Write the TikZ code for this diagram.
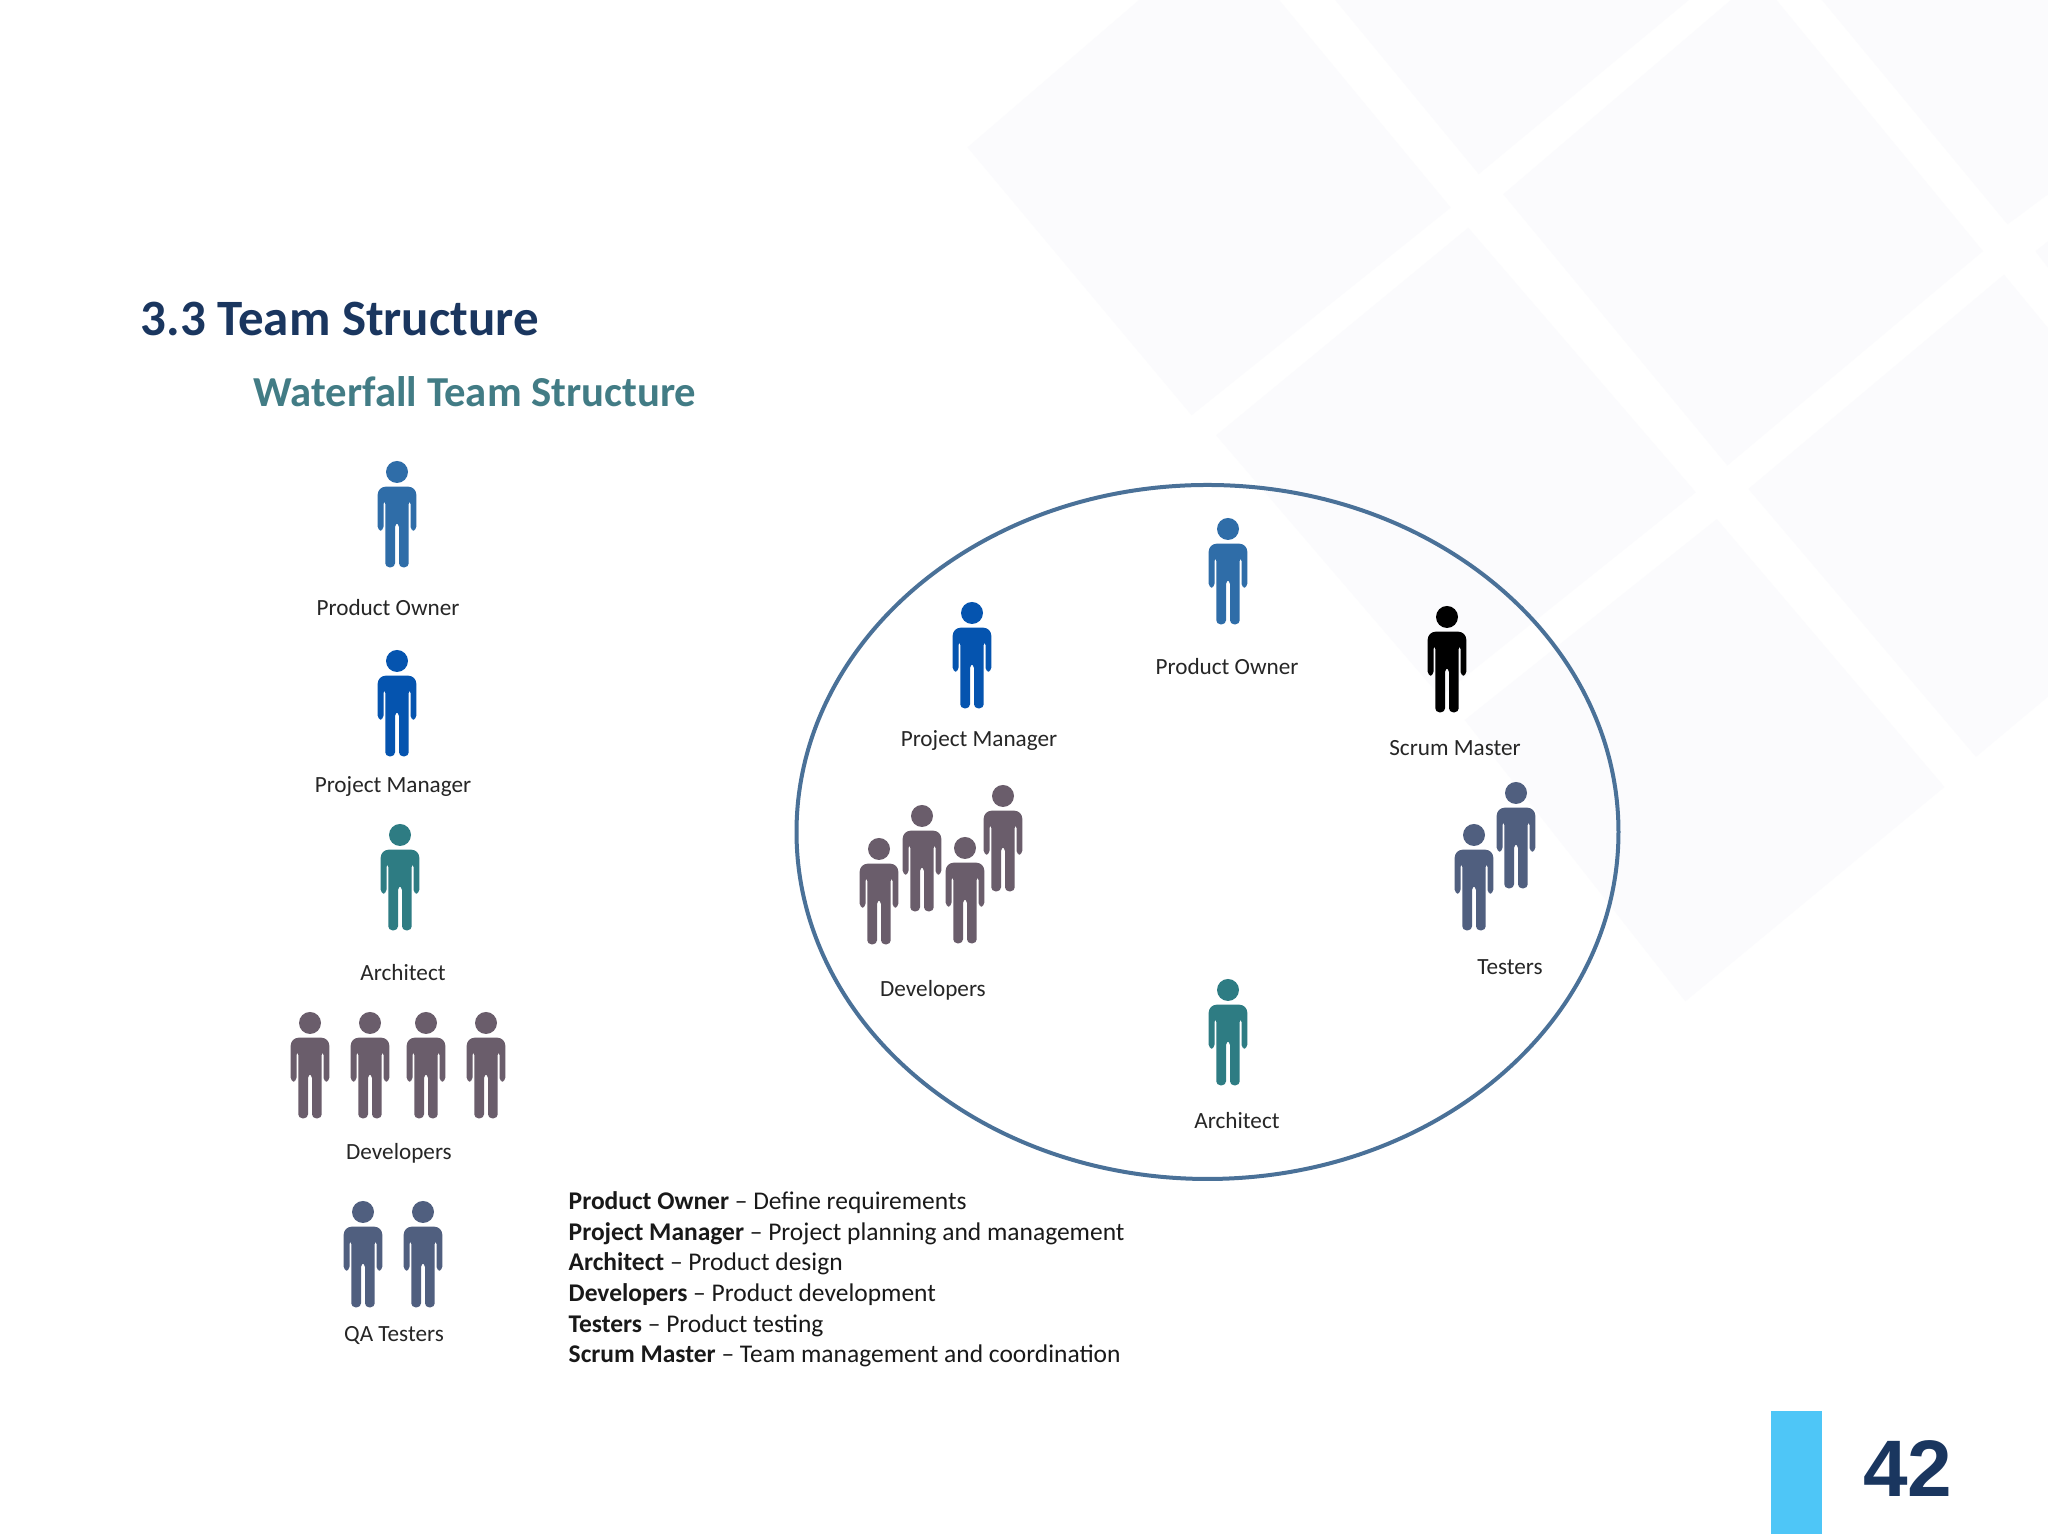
\documentclass[tikz,border=0pt]{standalone}
\usepackage{fontspec}
\setmainfont{Carlito}
\newfontfamily\numfont{Liberation Sans}
\usetikzlibrary{shapes.geometric}
\definecolor{backshape}{HTML}{FBFBFD}
\definecolor{titleblue}{HTML}{1A365F}
\definecolor{subteal}{HTML}{427C85}
\definecolor{ringblue}{HTML}{4A7198}
\definecolor{pagebar}{HTML}{4EC6F7}
\definecolor{ownerblue}{HTML}{2F6DA8}
\definecolor{managerblue}{HTML}{0554AF}
\definecolor{architectteal}{HTML}{2E7C83}
\definecolor{devgrey}{HTML}{6A5D6B}
\definecolor{testerslate}{HTML}{505F7F}
\def\person[#1](#2){\begin{scope}[shift={(#2)}]
	\fill[#1] (0, 0) circle (0.11);
	\fill[#1, rounded corners=0.04cm] (-0.193, -0.587) [rounded corners=0.08cm] -- (-0.193, -0.147) -- (0.193, -0.147) [rounded corners=0.04cm] -- (0.193, -0.587) -- (0.135, -0.587) -- (0.135, -0.28) -- (0.117, -0.28) -- (0.117, -0.953) -- (0.02, -0.953) -- (0.02, -0.51) -- (-0.02, -0.51) -- (-0.02, -0.953) -- (-0.117, -0.953) -- (-0.117, -0.28) -- (-0.135, -0.28) -- (-0.135, -0.587) -- cycle;
\end{scope}}
\tikzset{
	teamlabel/.style={inner sep=0pt, font=\fontsize{6.6}{8}\selectfont, text=black!85},
	backpiece/.style={fill=backshape, draw=none}
}

\begin{document}
\begin{tikzpicture}
	%%%%% START %%%%%
	\useasboundingbox (0, 0) rectangle (20.48, 15.36);
	\fill[white] (0, 0) rectangle (20.48, 15.36);

	% pale pieces behind everything
	\begin{scope}[shift={(9.5, 15.36)}, x=0.007cm, y=-0.0067cm]
		\fill[backpiece] (25, 220) -- (270, 0) -- (470, 0) -- (715, 310) -- (345, 620) -- cycle;
		\fill[backpiece] (550, 0) -- (755, 260) -- (1055, 0) -- cycle;
		\fill[backpiece] (790, 290) -- (1115, 0) -- (1180, 0) -- (1475, 375) -- (1110, 695) -- cycle;
		\fill[backpiece] (1245, 0) -- (1510, 335) -- (1568, 290) -- (1568, 0) -- cycle;
		\fill[backpiece] (380, 650) -- (740, 340) -- (1065, 735) -- (700, 1040) -- cycle;
		\fill[backpiece] (735, 1075) -- (1095, 775) -- (1420, 1175) -- (1050, 1495) -- cycle;
		\fill[backpiece] (1140, 730) -- (1505, 410) -- (1568, 490) -- (1568, 1040) -- (1465, 1130) -- cycle;
		\fill[backpiece] (1568, 360) -- (1550, 375) -- (1568, 400) -- cycle;
	\end{scope}

	\node[anchor=west, inner sep=0pt, font=\fontsize{14.5}{17}\selectfont\bfseries, text=titleblue] (title) at (1.40, 12.17) {3.3 Team Structure};
	\node[anchor=west, inner sep=0pt, font=\fontsize{12.15}{15}\selectfont\bfseries, text=subteal] (subtitle) at (2.53, 11.44) {Waterfall Team Structure};

	% left column
	\person[ownerblue](3.97, 10.64)
	\node[teamlabel] (ownerleft) at (3.88, 9.28) {Product Owner};
	\person[managerblue](3.97, 8.75)
	\node[teamlabel] (managerleft) at (3.93, 7.49) {Project Manager};
	\person[architectteal](4.00, 7.01)
	\node[teamlabel] (architectleft) at (4.03, 5.63) {Architect};
	\person[devgrey](3.10, 5.13)
	\person[devgrey](3.70, 5.13)
	\person[devgrey](4.26, 5.13)
	\person[devgrey](4.86, 5.13)
	\node[teamlabel] (devsleft) at (3.99, 3.83) {Developers};
	\person[testerslate](3.63, 3.24)
	\person[testerslate](4.23, 3.24)
	\node[teamlabel] (testersleft) at (3.94, 2.00) {QA Testers};

	% ring
	\draw[line width=0.04cm, color=ringblue] (12.075, 7.04) ellipse (4.11 and 3.47);
	\person[ownerblue](12.28, 10.07)
	\node[teamlabel] (ownerring) at (12.27, 8.69) {Product Owner};
	\person[managerblue](9.72, 9.23)
	\node[teamlabel] (managerring) at (9.79, 7.95) {Project Manager};
	\person[black](14.47, 9.19)
	\node[teamlabel] (scrumring) at (14.55, 7.88) {Scrum Master};
	\person[devgrey](10.03, 7.40)
	\person[devgrey](9.22, 7.20)
	\person[devgrey](8.79, 6.87)
	\person[devgrey](9.65, 6.88)
	\node[teamlabel] (devsring) at (9.33, 5.46) {Developers};
	\person[testerslate](15.16, 7.43)
	\person[testerslate](14.74, 7.01)
	\node[teamlabel] (testersring) at (15.10, 5.69) {Testers};
	\person[architectteal](12.28, 5.46)
	\node[teamlabel] (architectring) at (12.37, 4.15) {Architect};

	% duties
	\node[anchor=north west, inner sep=0pt, align=left, font=\fontsize{7.25}{8.73}\selectfont, text=black!90] (duties) at (5.68, 3.45) {\textbf{Product Owner} -- Define requirements\\
		\textbf{Project Manager} -- Project planning and management\\
		\textbf{Architect} -- Product design\\
		\textbf{Developers} -- Product development\\
		\textbf{Testers} -- Product testing\\
		\textbf{Scrum Master} -- Team management and coordination};

	% page number
	\fill[pagebar] (17.71, 0.02) rectangle (18.22, 1.25);
	\node[inner sep=0pt, font=\fontsize{22.8}{26}\numfont\bfseries, text=titleblue] (pagenum) at (19.08, 0.67) {42};
	%%%%% END %%%%%
\end{tikzpicture}
\end{document}
